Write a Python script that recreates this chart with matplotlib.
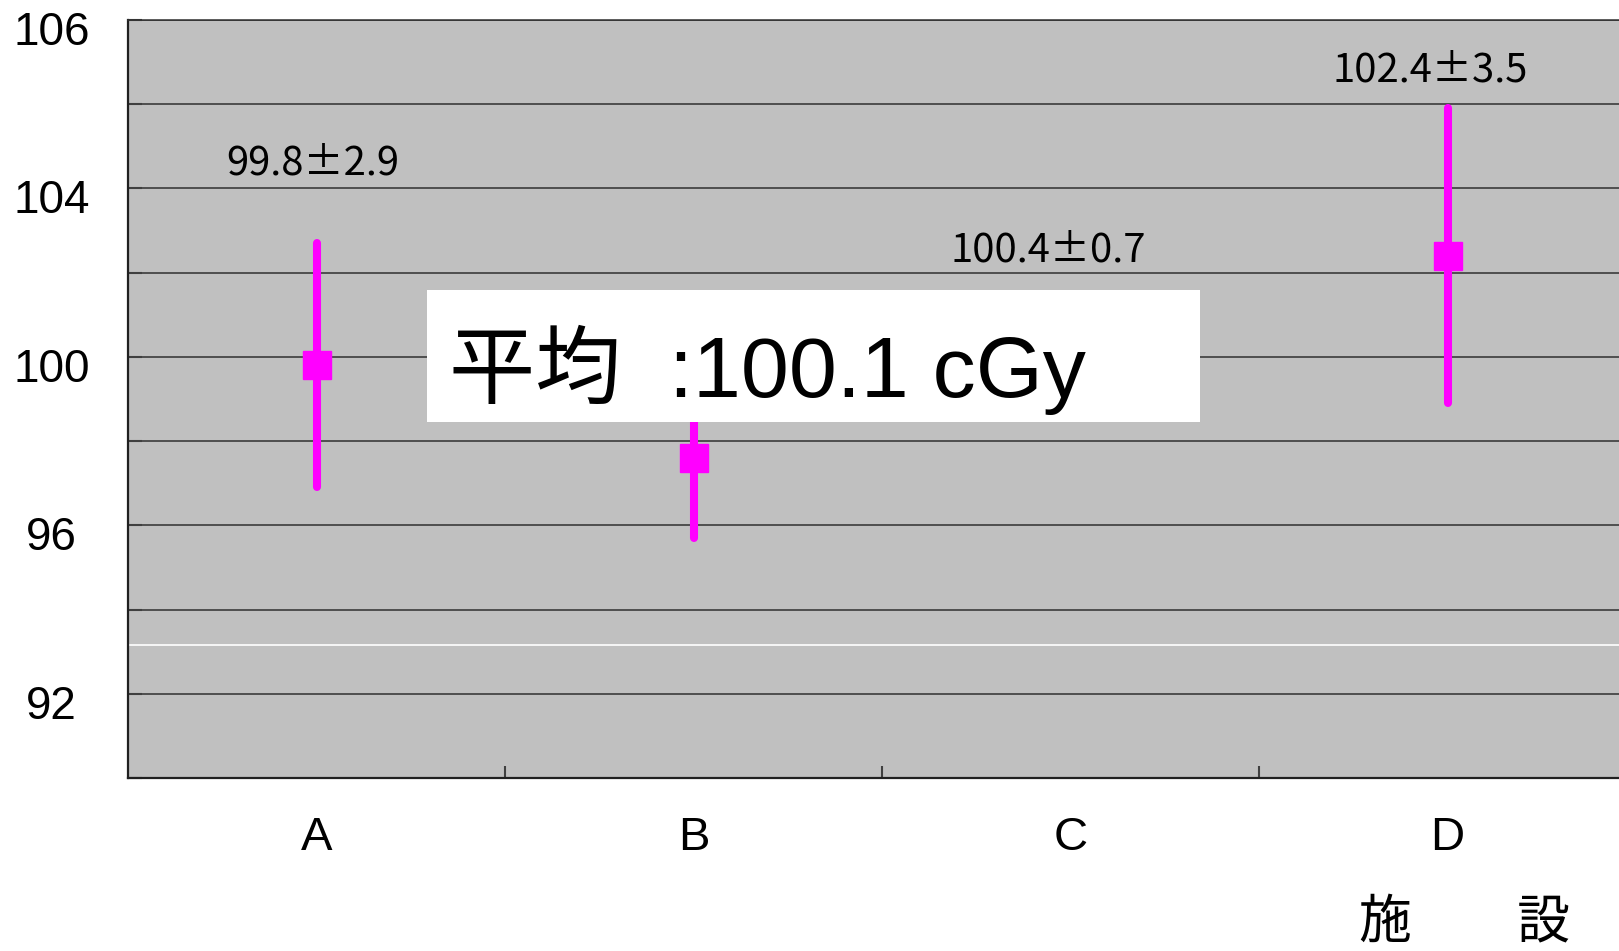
import matplotlib
matplotlib.use("Agg")
import matplotlib.pyplot as plt
import matplotlib.transforms as mtransforms
from matplotlib.patches import Rectangle

plt.rcParams['font.family'] = ['Liberation Sans', 'Noto Sans CJK JP', 'DejaVu Sans']

# ---- data ----
facilities = ["A", "B", "C", "D"]
means = [99.8, 97.6, 100.4, 102.4]
sds = [2.9, 1.9, 0.7, 3.5]
value_labels = {"A": "99.8±2.9", "C": "100.4±0.7", "D": "102.4±3.5"}
ytick_values = [90, 92, 94, 96, 98, 100, 102, 104, 106, 108]
ytick_text = {108: "106", 104: "104", 100: "100", 96: "96", 92: "92"}
mean_text = "平均  :100.1 cGy"
xlabel_text = "施　　設"
white_line_value = 93.17

# ---- layout ----
W, H, DPI = 1619, 951, 100
fig = plt.figure(figsize=(W / DPI, H / DPI), dpi=DPI)
ax = fig.add_axes([128 / W, 1 - 778 / H, 1508 / W, 758 / H])
ax.set_facecolor("#C0C0C0")
ax.set_xlim(-0.5, 3.5)
ax.set_ylim(90, 108)

# gridlines
for v in ytick_values:
    ax.axhline(v, color="#303030", lw=1.1, zorder=1)
ax.axhline(white_line_value, color="white", lw=1.2, zorder=1)

# y ticks
ax.set_yticks(ytick_values)
ax.set_yticklabels([ytick_text.get(v, "") for v in ytick_values], fontsize=33, ha="center")
ax.tick_params(axis="y", direction="in", length=10, width=1.5, color="#404040", pad=55)
offset = mtransforms.ScaledTranslation(0, -8 / DPI, fig.dpi_scale_trans)
for lab in ax.get_yticklabels():
    lab.set_transform(lab.get_transform() + offset)

# x ticks: boundaries (major, no labels) and category labels (minor)
ax.set_xticks([0.5, 1.5, 2.5])
ax.set_xticklabels([])
ax.tick_params(axis="x", which="major", direction="in", length=9, width=1.5, color="#404040")
ax.set_xticks(range(len(facilities)), minor=True)
ax.set_xticklabels(facilities, minor=True, fontsize=34)
ax.tick_params(axis="x", which="minor", length=0, pad=27)

for s in ["left", "bottom"]:
    ax.spines[s].set_linewidth(1.6)
    ax.spines[s].set_color("#202020")
ax.spines["top"].set_color("#303030")
ax.spines["top"].set_linewidth(1.1)
ax.spines["right"].set_visible(False)

# error bars
magenta = "#FF00FF"
eb = ax.errorbar(range(len(facilities)), means, yerr=sds, fmt="s", ms=20,
                 color=magenta, mec=magenta, elinewidth=5.8, capsize=0, zorder=3)
for lc in eb[2]:
    lc.set_capstyle("round")

# value labels
label_offsets = {"A": (-4, 69), "C": (-22, 49), "D": (-17, 27)}
for i, f in enumerate(facilities):
    if f in value_labels:
        dx, dy = label_offsets[f]
        ax.annotate(value_labels[f], xy=(i, means[i] + sds[i]), xytext=(dx, dy),
                    textcoords="offset pixels", ha="center", va="baseline",
                    fontsize=28.8, zorder=4,
                    family=['Noto Sans CJK JP', 'DejaVu Sans'])

# white box with mean text
fig.patches.append(Rectangle((427 / W, 1 - 422 / H), (1200 - 427) / W, (422 - 290) / H,
                             transform=fig.transFigure, facecolor="white",
                             edgecolor="none", zorder=5))
fig.text(449 / W, 1 - 397 / H, mean_text, fontsize=62, ha="left", va="baseline", zorder=6)

# x axis title
fig.text(1464 / W, 1 - 922 / H, xlabel_text, fontsize=38, ha="center", va="center",
         family=['Noto Sans CJK JP', 'DejaVu Sans'])

fig.savefig("out.png", dpi=DPI)
